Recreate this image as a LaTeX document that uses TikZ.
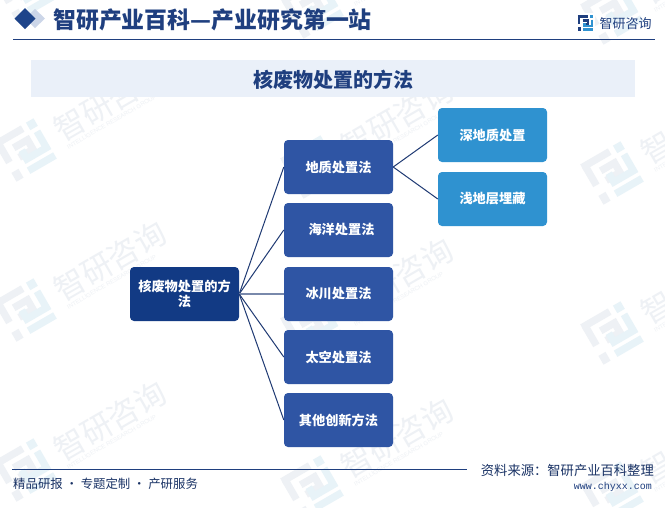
\documentclass[tikz,border=0pt]{standalone}
\usepackage{fontspec}
\setmainfont{Noto Sans CJK SC}
\newfontfamily\webfont{Liberation Mono}
\newfontfamily\wmlatin{Liberation Sans}
\definecolor{navy}{HTML}{1F3F7F}
\definecolor{rootblue}{HTML}{123A84}
\definecolor{midblue}{HTML}{2F55A4}
\definecolor{leafblue}{HTML}{2F92D0}
\definecolor{band}{HTML}{EAF0F9}
\definecolor{wmgray}{HTML}{EEF1F5}
\definecolor{wmblue}{HTML}{E8F3F8}
\definecolor{edgeblue}{HTML}{1F3A73}
\definecolor{paledia}{HTML}{CCD6E8}
\tikzset{
  x=1pt,y=-1pt,
  boxbase/.style={rounded corners=4pt,minimum width=109pt,minimum height=54pt,inner sep=3pt,text=white,align=center,text width=100pt,font=\fontsize{13.2}{15.5}\selectfont\bfseries},
  rootbox/.style={boxbase,fill=rootblue},
  midbox/.style={boxbase,fill=midblue},
  leafbox/.style={boxbase,fill=leafblue},
  link/.style={draw=edgeblue,line width=1pt},
  flatlink/.style={draw=edgeblue!60,line width=1.2pt},
  wmtext/.style={text=wmgray,font=\fontsize{31}{31}\selectfont,anchor=west,inner sep=0pt,transform shape},
  wmsub/.style={text=wmgray,font=\wmlatin\fontsize{6}{7}\selectfont,anchor=west,inner sep=0pt,transform shape},
  pics/logomark/.style n args={3}{code={
    \begin{scope}[scale=#3,line cap=butt,line join=miter]
      \draw[#1,line width=#3*2.5pt] (-8,-6.8) -- (3,-6.8);
      \draw[#1,line width=#3*2.5pt] (-6.8,-6.8) -- (-6.8,1);
      \draw[#1,line width=#3*2.5pt] (-3,-2.6) -- (2.5,-2.6) -- (2.5,1.2) -- (-3,1.2);
      \fill[#1] (-8,4.5) rectangle (-5.2,8);
      \fill[#2] (5,-8) rectangle (8,-5);
      \draw[#2,line width=#3*2.5pt] (6.8,-3.5) -- (6.8,3) -- (-1,3) -- (-1,-0.5);
      \draw[#2,line width=#3*2.5pt] (-2.5,6.8) -- (8,6.8);
    \end{scope}
  }},
  pics/mark/.style={code={
    \pic[transform shape] {logomark={wmgray}{wmblue}{2.9}};
    \node[wmtext] (wmt) at (36,0) {智研咨询};
    \node[wmsub] (wms) at (38,19) {INTELLIGENCE RESEARCH GROUP};
  }}
}
\begin{document}
\begin{tikzpicture}
\useasboundingbox (0,0) rectangle (665,507);
\fill[white] (0,0) rectangle (665,507);
% watermarks
\foreach \wx/\wy in {25/-10,25/150,25/310,25/470,312/7,312/167,312/327,312/487,612/13,612/173,612/333,612/493}{
  \begin{scope}[shift={(\wx,\wy)},rotate=30]
    \pic[transform shape] {mark};
  \end{scope}
}
% header
\fill[paledia] (35,9) -- (45,18.5) -- (35,28) -- (25,18.5) -- cycle;
\fill[rootblue!95!white] (25,8) -- (35.5,18.5) -- (25,29) -- (14.5,18.5) -- cycle;
\node[anchor=west,inner sep=0pt,text=navy,font=\fontsize{22.9}{24}\selectfont\bfseries] (headtitle) at (53,20) {智研产业百科—产业研究第一站};
\draw[navy,line width=1pt] (13,39) -- (655,39);
\fill[white] (576,13) rectangle (595,33);
\pic at (585.5,23) {logomark={navy}{leafblue}{0.95}};
\node[anchor=west,inner sep=0pt,text=navy,font=\fontsize{13}{14}\selectfont] (logotext) at (599.5,23.5) {智研咨询};
% title band
\fill[band] (31,60) rectangle (635,97);
\node[text=navy,inner sep=0pt,font=\fontsize{20}{22}\selectfont\bfseries] (bandtitle) at (333.5,80) {核废物处置的方法};
% boxes
\node[rootbox] (root) at (184.5,294) {核废物处置的方\\法};
\node[midbox] (geo) at (338.5,167) {地质处置法};
\node[midbox] (sea) at (338.5,230) {\hspace*{6pt}海洋处置法};
\node[midbox] (ice) at (338.5,294) {冰川处置法};
\node[midbox] (spc) at (338.5,357) {太空处置法};
\node[midbox] (oth) at (338.5,420) {其他创新方法};
\node[leafbox] (deep) at (492.5,135) {深地质处置};
\node[leafbox] (shal) at (492.5,199) {浅地层埋藏};
% connectors
\draw[link] (root.east) -- (geo.west);
\draw[link] (root.east) -- (sea.west);
\draw[flatlink] (root.east) -- (ice.west);
\draw[link] (root.east) -- (spc.west);
\draw[link] (root.east) -- (oth.west);
\draw[link] (geo.east) -- (deep.west);
\draw[link] (geo.east) -- (shal.west);
% footer
\draw[navy,line width=1pt] (12,469) -- (467,469);
\node[anchor=west,inner sep=0pt,text=navy!80!black,font=\fontsize{12.4}{14}\selectfont] (footleft) at (13,484) {精品研报 · 专题定制 · 产研服务};
\node[anchor=east,inner sep=0pt,text=navy!80!black,font=\fontsize{13.3}{14}\selectfont] (source) at (654,470) {资料来源：智研产业百科整理};
\node[anchor=east,inner sep=0pt,text=navy,font=\webfont\fontsize{10}{12}\selectfont] (web) at (652,487) {www.chyxx.com};
\end{tikzpicture}
\end{document}
